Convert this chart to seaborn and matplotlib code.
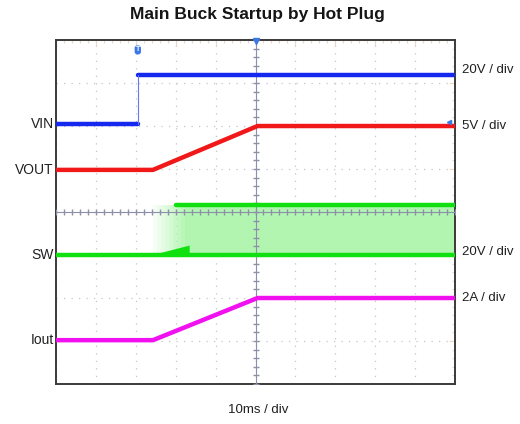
import matplotlib
matplotlib.use("Agg")
import matplotlib.pyplot as plt
import matplotlib.transforms as mtransforms
import numpy as np
import seaborn as sns

sns.set_style("white")
plt.rcParams['font.family'] = ['Liberation Sans', 'DejaVu Sans']

# scope traces: time in ms (10 ms/div), level in divisions (0..8)
vin_t_low = [0, 20.5]
vin_low = [6.05, 6.05]
vin_t_high = [20.6, 100]
vin_high = [7.19, 7.19]

vout_t = [0, 24.3, 50.5, 100]
vout = [4.98, 4.98, 6.0, 6.0]

sw_t = [0, 100]
sw_base = [3.0, 3.0]
sw_top_t = [30, 100]
sw_top = [4.16, 4.16]
sw_burst_t = [24.3, 33.5, 33.5]
sw_burst = [3.0, 3.22, 3.0]
sw_fill_start = 24.3
sw_fill_end = 100

iout_t = [0, 24.3, 50.5, 100]
iout = [1.02, 1.02, 2.0, 2.0]

left_labels = ["VIN", "VOUT", "SW", "Iout"]
left_levels = [6.05, 4.98, 3.0, 1.02]
right_labels = ["20V / div", "5V / div", "20V / div", "2A / div"]
right_levels = [7.3, 6.0, 3.07, 2.0]

fig = plt.figure(figsize=(5.2, 4.24), dpi=100)
ax = fig.add_axes([0.1077, 0.0943, 0.7673, 0.8113])
ax.set_xlim(0, 100)
ax.set_ylim(0, 8)

# graticule
ax.set_xticks(np.arange(0, 101, 10))
ax.set_yticks(np.arange(0, 9, 1))
ax.set_xticks(np.arange(0, 101, 2), minor=True)
ax.set_yticks(np.arange(0, 8.01, 0.2), minor=True)
ax.tick_params(which='both', direction='in', labelbottom=False, labelleft=False,
               color='#e8d8c4', top=True, right=True)
ax.tick_params(which='major', length=4, width=0.8)
ax.tick_params(which='minor', length=2.5, width=0.8)
ax.grid(True, which='major', color='#c4c4cc', linestyle=(0, (1, 5)), linewidth=0.9)
for sp in ax.spines.values():
    sp.set_color('#3a3a3a')
    sp.set_linewidth(1.4)

ax.axhline(4, color='#8c90a8', lw=0.8, zorder=3)
ax.axvline(50, color='#8c90a8', lw=0.8, zorder=3)
xt = np.arange(0, 100.1, 2)
ax.plot(xt, np.full_like(xt, 4.0), ls='none', marker='|', ms=4, color='#8c90a8', zorder=3)
yt = np.arange(0, 8.01, 0.2)
ax.plot(np.full_like(yt, 50.0), yt, ls='none', marker='_', ms=4, color='#8c90a8', zorder=3)

# SW switching envelope with fade-in
fill_c = '#b2f5b0'
ax.fill_between([sw_fill_start + 8, sw_fill_end], 3.0, 4.16, color=fill_c, lw=0, zorder=2)
edges = np.linspace(sw_fill_start, sw_fill_start + 8, 9)
for i in range(8):
    ax.fill_between(edges[i:i + 2], 3.0, 4.16, color=fill_c, alpha=(i + 1) / 9, lw=0, zorder=2)

sns.lineplot(x=sw_t, y=sw_base, ax=ax, color='#10e010', lw=3.2, zorder=4)
sns.lineplot(x=sw_top_t, y=sw_top, ax=ax, color='#10e010', lw=3.2, zorder=4)
ax.fill(sw_burst_t, sw_burst, color='#10e010', lw=0, zorder=4)

sns.lineplot(x=vin_t_low, y=vin_low, ax=ax, color='#1428f0', lw=3.2, zorder=5)
sns.lineplot(x=vin_t_high, y=vin_high, ax=ax, color='#1428f0', lw=3.2, zorder=5)
ax.plot([20.5, 20.5], [vin_low[0], vin_high[0]], color='#6a78f0', lw=0.8, zorder=5)

sns.lineplot(x=vout_t, y=vout, ax=ax, color='#f01818', lw=3.2, zorder=5)
sns.lineplot(x=iout_t, y=iout, ax=ax, color='#f010f0', lw=3.2, zorder=5)

# trigger markers
ax.text(20.5, 7.77, 'T', color='white', fontsize=5, ha='center', va='center', fontweight='bold',
        bbox=dict(boxstyle='round,pad=0.15,rounding_size=0.4', fc='#3a78e8', ec='none'), zorder=6)
ax.plot([50], [7.98], marker='v', ms=4, color='#3a78e8', clip_on=False, zorder=6)
ax.plot([98.5], [6.1], marker='<', ms=3, color='#3a78e8', zorder=6)

trans = mtransforms.blended_transform_factory(ax.transAxes, ax.transData)
for lab, lvl in zip(left_labels, left_levels):
    ax.text(-0.005, lvl, lab, transform=trans, ha='right', va='center', fontsize=10, color='#202020')
for lab, lvl in zip(right_labels, right_levels):
    ax.text(1.018, lvl, lab, transform=trans, ha='left', va='center', fontsize=9.5, color='#202020')

fig.text(0.496, 0.965, 'Main Buck Startup by Hot Plug', ha='center', va='center',
         fontsize=12.5, fontweight='bold', color='#151515')
fig.text(0.496, 0.033, '10ms / div', ha='center', va='center', fontsize=9.5, color='#202020')

fig.savefig('out.png', dpi=100)
